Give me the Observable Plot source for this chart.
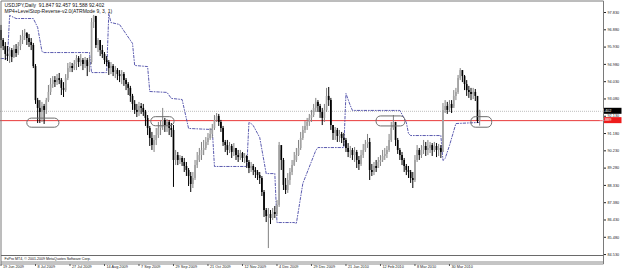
<!DOCTYPE html>
<html><head><meta charset="utf-8">
<script src="https://cdn.jsdelivr.net/npm/d3@7"></script>
<script src="https://cdn.jsdelivr.net/npm/@observablehq/plot@0.6"></script>
<style>
html,body{margin:0;padding:0;background:#fff;}
#chart{width:625px;height:273px;overflow:hidden;}
</style></head><body><div id="chart"></div>
<script>
// ---- data (USDJPY daily) ----
const firstOpen = 96.84;
const closes = [
96.29,95.96,95.52,95.41,95.74,95.36,95.80,95.58,95.96,96.29,
96.51,96.68,96.40,96.18,96.02,94.86,92.99,92.56,92.34,92.67,
92.45,92.99,93.44,93.87,94.09,93.98,94.20,94.09,93.66,93.54,
94.20,94.75,94.86,94.75,94.97,95.30,95.08,95.19,94.97,95.19,
94.86,95.08,97.28,97.61,96.02,96.29,95.74,95.52,95.19,95.08,
94.75,94.86,94.53,94.64,94.42,94.31,94.42,94.09,93.87,93.66,
93.22,92.78,92.45,92.34,92.67,92.56,92.34,92.01,91.46,90.91,
90.52,90.80,91.07,91.46,91.62,91.90,91.62,91.79,91.46,91.35,
89.70,89.97,89.70,89.81,89.59,89.37,89.15,88.82,88.38,88.71,
89.42,89.70,89.97,90.25,90.36,90.69,90.91,91.13,91.46,91.90,
92.12,91.79,91.46,90.69,90.52,90.25,90.47,90.14,90.36,89.97,
89.86,90.08,89.81,89.92,89.59,89.26,89.37,89.15,89.04,88.87,
88.71,87.94,86.95,86.62,86.73,86.51,86.84,86.73,87.23,90.52,
89.70,88.33,88.05,88.60,89.04,89.42,89.70,89.97,90.36,90.91,
91.35,91.57,91.79,92.01,92.17,92.56,92.89,92.67,92.34,92.01,
92.45,93.22,92.99,91.62,91.18,91.35,91.02,91.13,90.91,90.80,
90.36,90.14,90.25,89.97,90.14,89.70,89.48,89.97,90.25,90.58,
90.69,89.15,89.04,89.37,89.26,89.59,89.70,89.92,90.03,90.25,
90.80,91.46,91.79,90.80,90.25,89.97,89.70,89.37,89.15,89.04,
88.71,88.60,89.70,90.25,89.97,90.25,90.47,90.25,90.36,90.52,
90.25,90.47,90.25,90.36,90.14,92.45,92.67,92.45,92.78,92.56,
93.22,93.44,94.20,94.64,94.31,93.87,93.54,93.44,93.33,93.44,
93.22,91.847,92.402];
const highs = [
97.12,96.40,96.18,95.96,95.91,95.85,96.02,96.07,96.18,96.57,
96.84,96.90,96.73,96.62,96.40,96.13,94.97,93.11,92.99,92.89,
92.78,93.11,93.82,94.20,94.31,94.31,94.42,94.48,94.20,93.98,
94.42,95.03,95.08,95.03,95.19,95.47,95.41,95.52,95.30,95.36,
95.30,95.36,97.50,97.67,97.62,96.40,96.29,96.02,95.63,95.41,
95.19,95.08,94.97,94.86,94.75,94.64,94.64,94.53,94.20,93.98,
93.77,93.33,92.99,92.78,92.89,92.83,92.78,92.45,92.17,91.57,
91.24,91.07,91.46,91.79,91.90,92.56,92.01,91.95,91.90,91.73,
91.62,90.25,90.14,89.97,89.92,89.81,89.59,89.26,89.04,89.04,
89.70,90.14,90.36,90.69,90.80,90.96,91.18,91.46,91.68,92.17,
92.28,92.23,91.90,91.57,90.80,90.80,90.69,90.58,90.63,90.36,
90.25,90.25,90.14,90.08,89.97,89.70,89.59,89.48,89.31,89.15,
89.04,88.82,88.05,87.06,87.06,86.95,87.06,87.17,87.50,90.69,
90.25,89.81,88.71,88.98,89.26,89.70,90.14,90.36,90.80,91.24,
91.57,91.84,92.01,92.23,92.45,92.78,93.11,92.99,92.78,92.56,
92.78,93.66,93.71,93.11,91.62,91.51,91.46,91.35,91.24,91.18,
90.91,90.63,90.47,90.36,90.41,90.25,89.92,90.25,90.58,90.80,
91.13,90.91,89.48,89.59,89.70,89.86,89.97,90.25,90.36,90.47,
91.13,91.79,92.17,91.79,90.91,90.36,90.14,89.81,89.48,89.37,
89.15,89.04,89.97,90.52,90.36,90.52,90.80,90.69,90.80,90.69,
90.63,90.69,90.63,90.58,90.52,92.83,92.99,92.89,92.99,92.99,
93.54,93.66,94.37,94.75,94.64,94.37,94.09,93.77,93.66,93.66,
93.60,93.16,92.457];
const lows = [
95.85,95.74,95.19,95.14,95.03,95.08,95.30,95.36,95.47,95.74,
96.07,96.29,96.02,95.91,95.74,94.75,92.78,91.73,91.73,91.79,
91.68,92.23,92.89,93.27,93.66,93.71,93.82,93.87,93.27,93.16,
93.44,94.09,94.53,94.53,94.64,94.64,94.81,94.86,94.64,94.75,
94.31,94.53,94.97,96.95,95.85,95.63,95.41,95.30,94.97,94.86,
94.37,94.42,94.31,94.20,94.09,93.98,93.87,93.77,93.54,93.27,
92.89,92.45,92.23,92.06,92.12,92.23,92.12,91.57,91.07,90.47,
90.25,90.14,90.52,90.91,91.07,91.35,91.24,91.24,91.07,90.96,
88.22,89.42,89.42,89.48,89.37,89.04,88.82,88.27,87.94,88.16,
88.60,89.26,89.59,89.70,89.97,90.25,90.52,90.80,90.91,91.35,
91.79,91.57,91.24,90.47,90.14,89.97,90.08,89.81,89.92,89.70,
89.59,89.70,89.59,89.53,89.26,88.98,89.04,88.87,88.71,88.60,
88.38,87.72,86.57,86.29,84.86,86.18,86.40,86.51,86.62,87.12,
89.15,88.05,87.83,87.89,88.33,88.87,89.37,89.59,89.92,90.25,
90.80,91.18,91.35,91.57,91.79,92.06,92.34,92.34,92.01,91.62,
91.79,92.34,92.67,91.35,90.80,90.80,90.69,90.69,90.63,90.47,
90.14,89.86,89.81,89.70,89.59,89.26,89.15,89.37,89.81,90.14,
90.36,88.60,88.82,88.87,89.04,89.26,89.37,89.59,89.70,89.81,
90.14,90.69,91.35,90.47,90.03,89.70,89.42,89.04,88.87,88.71,
88.44,88.16,88.49,89.59,89.70,89.81,90.03,89.92,89.97,90.08,
89.92,90.14,89.86,89.92,89.81,90.14,92.28,92.23,92.34,92.28,
92.67,92.99,93.33,94.09,93.98,93.54,93.22,93.11,92.99,93.05,
92.94,91.73,91.588];

// LevelStop-Reverse indicator vertices (bar index, price)
const stopIdx = [0,3,4,7,15,17,19,20,41,42,49,50,51,55,61,62,68,69,77,79,84,87,98,99,114,115,116,117,120,123,127,128,136,137,140,146,147,159,160,162,163,185,188,189,190,204,205,206,208,211,222];
const stopVal = [95.30,95.30,97.67,97.50,97.50,97.01,95.69,95.63,95.63,94.53,94.53,97.78,97.28,97.17,96.13,94.92,94.86,93.49,93.44,93.11,93.05,91.46,91.40,89.37,89.37,91.79,91.73,91.62,90.96,88.98,88.98,86.29,86.29,86.24,88.44,90.25,90.41,90.41,93.38,92.72,92.45,92.45,91.79,91.18,91.07,91.07,89.70,89.81,90.52,91.73,91.79];

// highlighted zones (rounded boxes)
const zoneStart = [12.2, 69.7, 174.2, 218.2];
const zoneEnd = [27.1, 80.5, 187.6, 227.8];
const zoneTop = [92.00, 92.08, 92.12, 92.08];
const zoneBottom = [91.50, 91.58, 91.57, 91.50];

const resistance = 91.889;
const bid = 92.402;
const priceTicks = [97.83,96.88,95.93,94.98,94.03,93.08,92.13,91.18,90.23,89.28,88.33,87.38,86.43,85.48,84.53];
const dateTickIdx = [0,16,32,48,64,80,96,112,128,144,160,176,192,208];
const dateTickLabels = ["19 Jun 2009","8 Jul 2009","27 Jul 2009","14 Aug 2009","7 Sep 2009","29 Sep 2009","21 Oct 2009","12 Nov 2009","4 Dec 2009","29 Dec 2009","21 Jan 2010","12 Feb 2010","8 Mar 2010","30 Mar 2010"];
const headerLine = "USDJPY,Daily  91.847 92.457 91.588 92.402";
const indicatorLine = "MP4+LevelStop-Reverse-v2.0(ATRMode 9, 3, 1)";
const copyright = "FxPro MT4, \u00a9 2001-2009 MetaQuotes Software Corp.";

// ---- build tables ----
const bars = closes.map((c, i) => ({i, o: i ? closes[i - 1] : firstOpen, h: highs[i], l: lows[i], c}));
const stop = stopIdx.map((i, k) => ({i, v: stopVal[k]}));
const zones = zoneStart.map((s, k) => ({x1: s, x2: zoneEnd[k], y1: zoneBottom[k], y2: zoneTop[k]}));
const dates = dateTickIdx.map((i, k) => ({i, label: dateTickLabels[k]}));

const FONT = "'Liberation Sans', Arial, sans-serif";
const plot = Plot.plot({
  width: 625, height: 273,
  marginTop: 0, marginLeft: 0, marginRight: 22, marginBottom: 18,
  style: {fontFamily: FONT, fontSize: "3.8px", background: "#fff", color: "#222", overflow: "visible"},
  x: {domain: [-0.232, 279.45], axis: null},
  y: {domain: [84.479, 98.49], axis: "right", ticks: priceTicks, tickFormat: d3.format(".3f"), tickSize: 2, tickPadding: 2, label: null},
  marks: [
    Plot.ruleY([bid], {stroke: "#bdbdbd", strokeWidth: 1, strokeDasharray: "1,1"}),
    Plot.ruleY([resistance], {stroke: "#e83a3a", strokeWidth: 1}),
    Plot.line(stop, {x: "i", y: "v", stroke: "#4848a6", strokeWidth: 0.9, strokeDasharray: "2.5,1.8,0.8,1.8", curve: "linear"}),
    Plot.ruleX(bars, {x: "i", y1: "l", y2: "h", stroke: d => d.c >= d.o ? "#808080" : "#000", strokeWidth: 1}),
    Plot.ruleX(bars, {x: "i", y1: "o", y2: "c", stroke: d => d.c >= d.o ? "#a2a2a2" : "#000", strokeWidth: 1.7}),
    Plot.rect(zones, {x1: "x1", x2: "x2", y1: "y1", y2: "y2", rx: 4.5, ry: 4.5, fill: "none", stroke: "#6e6e6e", strokeWidth: 1}),
    Plot.text(dates, {x: "i", text: "label", frameAnchor: "bottom", dy: 12.4, dx: 2, textAnchor: "start", fontSize: 3.8, fill: "#222"}),
    Plot.text([headerLine], {frameAnchor: "top-left", dx: 4, dy: 5.3, lineAnchor: "middle", textAnchor: "start", fontSize: 5, fill: "#111"}),
    Plot.text([indicatorLine], {frameAnchor: "top-left", dx: 4, dy: 10.9, lineAnchor: "middle", textAnchor: "start", fontSize: 5, fill: "#111"}),
    Plot.text([copyright], {frameAnchor: "bottom-left", dx: 4, dy: 3.6, lineAnchor: "middle", textAnchor: "start", fontSize: 3.6, fill: "#111"})
  ]
});

// ---- chart chrome (window frame, sub-window, price labels) using Plot's scales ----
const xs = plot.scale("x"), ys = plot.scale("y");
const X = d3.scaleLinear(xs.domain, xs.range), Y = d3.scaleLinear(ys.domain, ys.range);
const right = xs.range[1] + 0.5, bottom = ys.range[0];
const svg = d3.select(plot);
const g = svg.insert("g", ":first-child");
const g2 = svg.append("g");
const line = (grp, x1, y1, x2, y2, c, w) => grp.append("line").attr("x1", x1).attr("y1", y1).attr("x2", x2).attr("y2", y2).attr("stroke", c).attr("stroke-width", w);
line(g2, 1, 1, right, 1, "#7a7a7a", 1);
line(g2, 1, 1, 1, bottom + 9, "#7a7a7a", 1);
line(g2, right, 1, right, bottom + 9, "#7a7a7a", 1);
line(g2, 1, bottom + 0.5, right, bottom + 0.5, "#6a6a6a", 1.2);
line(g, 1, bottom + 7, right, bottom + 7, "#8a8a8a", 1);
line(g2, 1, bottom + 9, right, bottom + 9, "#8a8a8a", 1);
// date ticks
dateTickIdx.forEach(i => line(g2, X(i) + 0.5, bottom + 9, X(i) + 0.5, bottom + 11, "#555", 1));
// price boxes
const box = (p, bg) => {
  const y = Y(p);
  g2.append("rect").attr("x", right + 0.5).attr("y", y - 3).attr("width", 17.5).attr("height", 6).attr("fill", bg);
  g2.append("text").attr("x", right + 2).attr("y", y).attr("dy", "0.35em").attr("font-size", 3.8)
    .attr("font-family", FONT).attr("fill", "#fff").text(d3.format(".3f")(p));
};
box(bid, "#000");
box(resistance, "#ee1c1c");

document.getElementById("chart").appendChild(plot);
</script></body></html>
